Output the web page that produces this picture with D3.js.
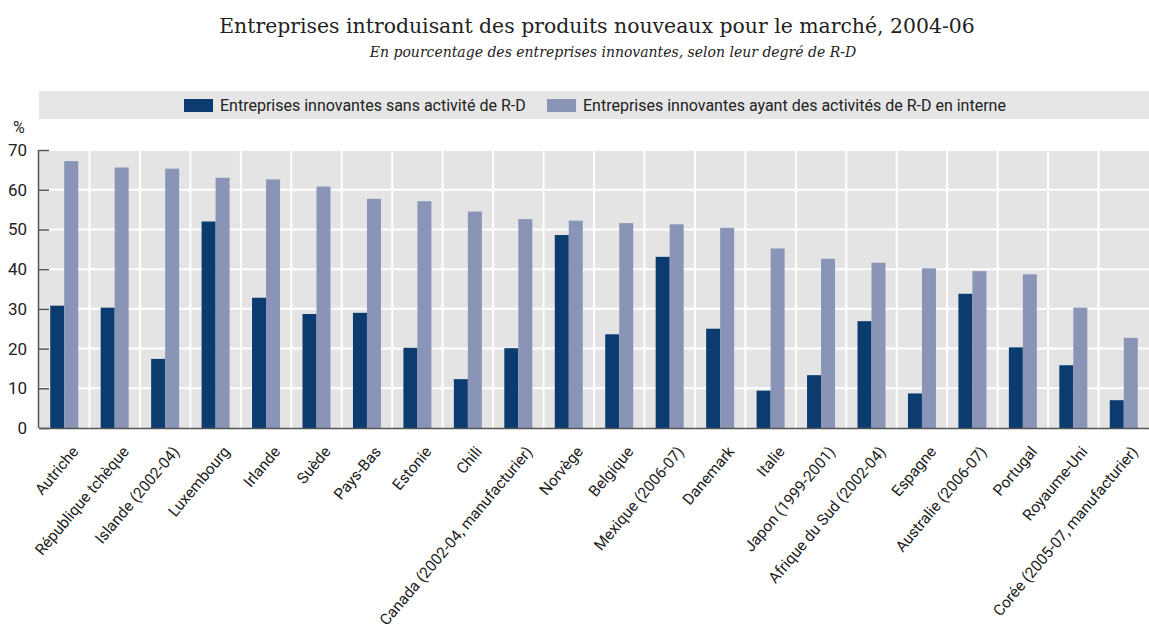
<!DOCTYPE html>
<html>
<head>
<meta charset="utf-8">
<script src="https://cdn.jsdelivr.net/npm/d3@7"></script>
<style>
  body { margin: 0; background: #fff; }
  svg text { fill: #222; }
</style>
</head>
<body>
<div id="chart"></div>
<script>
// categories and values
const countries = ["Autriche", "République tchèque", "Islande (2002-04)", "Luxembourg", "Irlande", "Suède",
    "Pays-Bas", "Estonie", "Chili", "Canada (2002-04, manufacturier)", "Norvège", "Belgique",
    "Mexique (2006-07)", "Danemark", "Italie", "Japon (1999-2001)", "Afrique du Sud (2002-04)",
    "Espagne", "Australie (2006-07)", "Portugal", "Royaume-Uni", "Corée (2005-07, manufacturier)"];
const sansRD = [30.8, 30.3, 17.4, 52.0, 32.8, 28.7, 29.0, 20.2, 12.3, 20.1, 48.6, 23.6,
    43.1, 25.0, 9.4, 13.3, 26.9, 8.7, 33.8, 20.3, 15.8, 7.0];
const avecRD = [67.2, 65.6, 65.3, 63.0, 62.6, 60.8, 57.7, 57.1, 54.5, 52.6, 52.2, 51.6,
    51.3, 50.4, 45.2, 42.6, 41.6, 40.2, 39.5, 38.7, 30.3, 22.7];
const seriesNames = ["Entreprises innovantes sans activité de R-D",
    "Entreprises innovantes ayant des activités de R-D en interne"];
const yTicks = [0, 10, 20, 30, 40, 50, 60, 70];

const W = 1149, H = 635;
const margin = {top: 150, right: 0, bottom: 207, left: 39};
const width = W - margin.left - margin.right;
const height = H - margin.top - margin.bottom;
const colors = ["#0b3b6f", "#8a94b7"];
const sans = "'Roboto', 'Liberation Sans', sans-serif";

let svg = d3.select("#chart").append("svg")
    .attr("width", W)
    .attr("height", H);

// titles
svg.append("text")
    .attr("x", 597).attr("y", 33)
    .attr("text-anchor", "middle")
    .style("font-family", "'DejaVu Serif', serif")
    .style("font-size", "20.4px")
    .text("Entreprises introduisant des produits nouveaux pour le marché, 2004-06");

svg.append("text")
    .attr("x", 613).attr("y", 57)
    .attr("text-anchor", "middle")
    .style("font-family", "'DejaVu Serif', serif")
    .style("font-style", "italic")
    .style("font-size", "14px")
    .text("En pourcentage des entreprises innovantes, selon leur degré de R-D");

// legend band
let legend = svg.append("g").attr("class", "legend");
legend.append("rect")
    .attr("x", margin.left).attr("y", 91)
    .attr("width", width).attr("height", 28)
    .attr("fill", "#e6e6e6");

let legendX = [184, 547];
seriesNames.forEach((name, i) => {
    legend.append("rect")
        .attr("x", legendX[i]).attr("y", 99)
        .attr("width", 29).attr("height", 13)
        .attr("fill", colors[i]);
    legend.append("text")
        .attr("x", legendX[i] + 36).attr("y", 111)
        .style("font-family", sans)
        .style("font-size", "16px")
        .text(name);
});

let g = svg.append("g")
    .attr("transform", `translate(${margin.left}, ${margin.top})`);

let x = d3.scaleBand()
    .domain(countries)
    .range([0, width]);

let y = d3.scaleLinear()
    .domain([0, 70])
    .range([height, 0]);

// plot background and white grid
g.append("rect")
    .attr("width", width).attr("height", height)
    .attr("fill", "#e4e4e4");

g.selectAll(".hgrid")
    .data(yTicks.filter(d => d > 0))
    .enter().append("line")
    .attr("class", "hgrid")
    .attr("x1", 0).attr("x2", width)
    .attr("y1", d => y(d)).attr("y2", d => y(d))
    .attr("stroke", "#fff").attr("stroke-width", 2);

g.selectAll(".vgrid")
    .data(countries.slice(1))
    .enter().append("line")
    .attr("class", "vgrid")
    .attr("x1", d => x(d)).attr("x2", d => x(d))
    .attr("y1", 0).attr("y2", height)
    .attr("stroke", "#fff").attr("stroke-width", 2);

// bars
let barW = 14;
let rows = countries.map((c, i) => ({country: c, values: [sansRD[i], avecRD[i]]}));

let groups = g.selectAll(".country")
    .data(rows)
    .enter().append("g")
    .attr("class", "country")
    .attr("transform", d => `translate(${x(d.country) + x.bandwidth() / 2}, 0)`);

groups.selectAll("rect")
    .data(d => d.values)
    .enter().append("rect")
    .attr("x", (d, i) => i === 0 ? -barW : 0)
    .attr("y", d => y(d))
    .attr("width", barW)
    .attr("height", d => height - y(d))
    .attr("fill", (d, i) => colors[i]);

// y axis
let yAxis = d3.axisLeft(y)
    .tickValues(yTicks)
    .tickSize(-10)
    .tickPadding(12);

let yAxisGroup = g.append("g").attr("class", "axis y-axis").call(yAxis);
yAxisGroup.select(".domain").attr("stroke", "#555").attr("stroke-width", 1.5)
    .attr("d", `M-0.5,0V${height}`);
yAxisGroup.selectAll(".tick line").attr("stroke", "#555").attr("stroke-width", 1.5);
yAxisGroup.selectAll(".tick text")
    .style("font-family", sans)
    .style("font-size", "17px")
    .attr("fill", "#222");

svg.append("text")
    .attr("x", 13).attr("y", 133)
    .style("font-family", sans)
    .style("font-size", "16px")
    .text("%");

// x axis
let xAxis = d3.axisBottom(x).tickSize(0).tickPadding(0);
let xAxisGroup = g.append("g")
    .attr("class", "axis x-axis")
    .attr("transform", `translate(0, ${height})`)
    .call(xAxis);
xAxisGroup.select(".domain").attr("stroke", "#555").attr("stroke-width", 1.5);
xAxisGroup.selectAll(".tick text")
    .style("font-family", sans)
    .style("font-size", "15.5px")
    .attr("fill", "#222")
    .attr("text-anchor", "end")
    .attr("dy", "0")
    .attr("transform", "translate(15, 24) rotate(-50)");
</script>
</body>
</html>
